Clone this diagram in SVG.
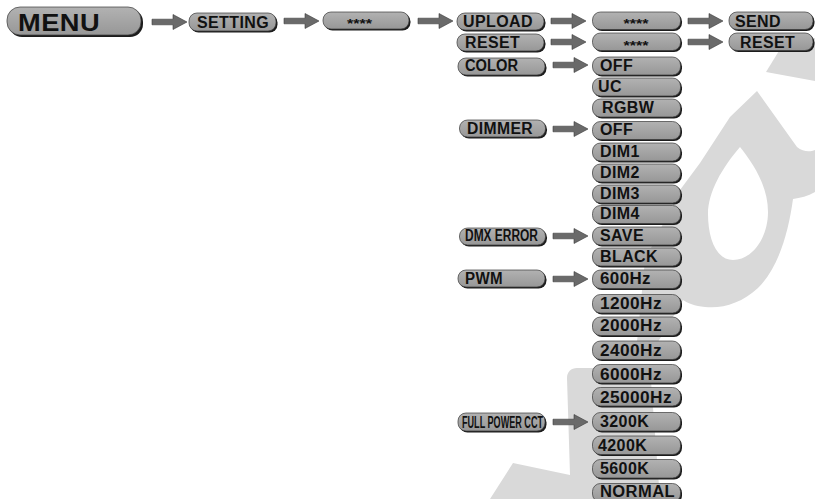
<svg xmlns="http://www.w3.org/2000/svg" xmlns:xlink="http://www.w3.org/1999/xlink" width="815" height="499" viewBox="0 0 815 499">
<defs>
<style>
.wm{fill:#d9d9d9}
.sh{fill:#1c1c1c}
.bt{fill:url(#gb);stroke:#3a3a3a;stroke-width:0.7}
.t{font-family:"Liberation Sans",Arial,sans-serif;font-weight:bold;font-size:16px;fill:#111;letter-spacing:0.4px}
.n{font-size:16px;letter-spacing:0}
.st{font-family:"Liberation Sans",Arial,sans-serif;font-weight:bold;font-size:13px;fill:#111}
.ar{fill:#6a6a6a;stroke:#3a3a3a;stroke-width:0.6}
</style>
<linearGradient id="gb" x1="0" y1="0" x2="0" y2="1">
<stop offset="0" stop-color="#b2b2b2"/>
<stop offset="1" stop-color="#979797"/>
</linearGradient>
<path id="arr" class="ar" d="M0,-2.8 H21 V-7.5 L35,0 L21,7.5 V2.8 H0 Z"/>
</defs>
<rect width="815" height="499" fill="#fff"/>
<g id="watermark">
<path class="wm" d="M766,72 L782,46 L815,38 L815,81 Z"/>
<path class="wm" fill-rule="evenodd" d="M757,91 L797,147 C803,152 810,152 815,150 L815,192 C808,196 800,198 793,199 C788,235 778,268 758,288 C742,303 722,309 705,307 C695,306 687,303 683,300 L652,352 L636,352 L645,260 L680,190 L700,163 L730,117 Z M740,147 C752,162 768,185 768,212 C768,238 752,260 733,260 C716,260 708,238 708,214 C708,192 722,168 740,147 Z"/>
<path class="wm" d="M490,499 L513,463 L570,475 L567,378 C567,372 571,368 577,368 L650,368 L660,499 Z"/>
</g>
<g id="connectors">
<use href="#arr" x="152" y="22"/>
<use href="#arr" x="284" y="21"/>
<use href="#arr" x="418" y="21"/>
<use href="#arr" x="551" y="21"/>
<use href="#arr" x="688" y="21"/>
<use href="#arr" x="551" y="42"/>
<use href="#arr" x="688" y="42"/>
<use href="#arr" x="553" y="65"/>
<use href="#arr" x="553" y="129"/>
<use href="#arr" x="553" y="236"/>
<use href="#arr" x="553" y="279"/>
<use href="#arr" x="553" y="422"/>
</g>
<g id="menu"><rect class="sh" x="9" y="9" width="134" height="28" rx="13"/><rect class="bt" x="7" y="7" width="134" height="28" rx="13"/><text class="t" x="18" y="31" style="font-size:24px" textLength="82" lengthAdjust="spacingAndGlyphs">MENU</text></g>
<g id="setting"><rect class="sh" x="190.5" y="14.5" width="87" height="18" rx="8"/><rect class="bt" x="189" y="13" width="87" height="18" rx="8"/><text class="t" x="197" y="27.5" textLength="72" lengthAdjust="spacingAndGlyphs">SETTING</text></g>
<g id="pwd"><rect class="sh" x="324.5" y="13.5" width="86" height="17" rx="8"/><rect class="bt" x="323" y="12" width="86" height="17" rx="8"/><text class="st" x="347" y="28" textLength="25" lengthAdjust="spacingAndGlyphs">****</text></g>
<g id="upload"><rect class="sh" x="458.5" y="14.5" width="87" height="17" rx="8"/><rect class="bt" x="457" y="13" width="87" height="17" rx="8"/><text class="t" x="463" y="27" textLength="70" lengthAdjust="spacingAndGlyphs">UPLOAD</text></g>
<g id="reset1"><rect class="sh" x="458.5" y="35.5" width="87" height="17" rx="8"/><rect class="bt" x="457" y="34" width="87" height="17" rx="8"/><text class="t" x="465" y="47.5" textLength="55" lengthAdjust="spacingAndGlyphs">RESET</text></g>
<g id="color"><rect class="sh" x="459.5" y="59.5" width="87" height="17" rx="8"/><rect class="bt" x="458" y="58" width="87" height="17" rx="8"/><text class="t n" x="465" y="71" textLength="53" lengthAdjust="spacingAndGlyphs">COLOR</text></g>
<g id="dimmer"><rect class="sh" x="461" y="121.5" width="86" height="17" rx="8"/><rect class="bt" x="459.5" y="120" width="86" height="17" rx="8"/><text class="t" x="467" y="133.5" textLength="66" lengthAdjust="spacingAndGlyphs">DIMMER</text></g>
<g id="dmxerror"><rect class="sh" x="461" y="229.5" width="86" height="17" rx="8"/><rect class="bt" x="459.5" y="228" width="86" height="17" rx="8"/><text class="t n" x="465" y="241" textLength="73" lengthAdjust="spacingAndGlyphs">DMX ERROR</text></g>
<g id="pwm"><rect class="sh" x="459.5" y="271.5" width="87" height="17" rx="8"/><rect class="bt" x="458" y="270" width="87" height="17" rx="8"/><text class="t" x="465" y="284" textLength="38" lengthAdjust="spacingAndGlyphs">PWM</text></g>
<g id="fullpower"><rect class="sh" x="459.5" y="414.5" width="87" height="18" rx="8"/><rect class="bt" x="458" y="413" width="87" height="18" rx="8"/><text class="t n" x="462" y="428" textLength="81" lengthAdjust="spacingAndGlyphs">FULL POWER CCT</text></g>
<g id="pwd2"><rect class="sh" x="594" y="13.5" width="88" height="17.5" rx="8"/><rect class="bt" x="592.5" y="12" width="88" height="17.5" rx="8"/><text class="st" x="623.5" y="28" textLength="25" lengthAdjust="spacingAndGlyphs">****</text></g>
<g id="pwd3"><rect class="sh" x="594" y="34.5" width="88" height="17.5" rx="8"/><rect class="bt" x="592.5" y="33" width="88" height="17.5" rx="8"/><text class="st" x="623.5" y="50" textLength="25" lengthAdjust="spacingAndGlyphs">****</text></g>
<g id="send"><rect class="sh" x="730.5" y="13.5" width="84" height="17.5" rx="8"/><rect class="bt" x="729" y="12" width="84" height="17.5" rx="8"/><text class="t" x="735" y="27" textLength="46" lengthAdjust="spacingAndGlyphs">SEND</text></g>
<g id="reset2"><rect class="sh" x="730.5" y="34.5" width="84" height="17.5" rx="8"/><rect class="bt" x="729" y="33" width="84" height="17.5" rx="8"/><text class="t" x="740" y="48" textLength="55" lengthAdjust="spacingAndGlyphs">RESET</text></g>
<g id="color-off"><rect class="sh" x="594" y="58.5" width="88" height="18" rx="8"/><rect class="bt" x="592.5" y="57" width="88" height="18" rx="8"/><text class="t" x="600" y="71">OFF</text></g>
<g id="color-uc"><rect class="sh" x="594" y="79.5" width="88" height="18" rx="8"/><rect class="bt" x="592.5" y="78" width="88" height="18" rx="8"/><text class="t" x="598" y="92">UC</text></g>
<g id="color-rgbw"><rect class="sh" x="594" y="100.5" width="88" height="18" rx="8"/><rect class="bt" x="592.5" y="99" width="88" height="18" rx="8"/><text class="t" x="602" y="113">RGBW</text></g>
<g id="dim-off"><rect class="sh" x="594" y="123" width="88" height="18" rx="8"/><rect class="bt" x="592.5" y="121.5" width="88" height="18" rx="8"/><text class="t" x="600" y="135">OFF</text></g>
<g id="dim1"><rect class="sh" x="594" y="144.5" width="88" height="18" rx="8"/><rect class="bt" x="592.5" y="143" width="88" height="18" rx="8"/><text class="t" x="600" y="157">DIM1</text></g>
<g id="dim2"><rect class="sh" x="594" y="165.5" width="88" height="18" rx="8"/><rect class="bt" x="592.5" y="164" width="88" height="18" rx="8"/><text class="t" x="600" y="178">DIM2</text></g>
<g id="dim3"><rect class="sh" x="594" y="186.5" width="88" height="18" rx="8"/><rect class="bt" x="592.5" y="185" width="88" height="18" rx="8"/><text class="t" x="600" y="199">DIM3</text></g>
<g id="dim4"><rect class="sh" x="594" y="207" width="88" height="18" rx="8"/><rect class="bt" x="592.5" y="205.5" width="88" height="18" rx="8"/><text class="t" x="600" y="219">DIM4</text></g>
<g id="save"><rect class="sh" x="594" y="228.5" width="88" height="18" rx="8"/><rect class="bt" x="592.5" y="227" width="88" height="18" rx="8"/><text class="t" x="600" y="241">SAVE</text></g>
<g id="black"><rect class="sh" x="594" y="249.5" width="88" height="18" rx="8"/><rect class="bt" x="592.5" y="248" width="88" height="18" rx="8"/><text class="t" x="600" y="262">BLACK</text></g>
<g id="hz600"><rect class="sh" x="594" y="271.5" width="88" height="18.5" rx="8"/><rect class="bt" x="592.5" y="270" width="88" height="18.5" rx="8"/><text class="t" x="600" y="284" textLength="51" lengthAdjust="spacingAndGlyphs">600Hz</text></g>
<g id="hz1200"><rect class="sh" x="594" y="296" width="88" height="18.5" rx="8"/><rect class="bt" x="592.5" y="294.5" width="88" height="18.5" rx="8"/><text class="t" x="600" y="309" textLength="62" lengthAdjust="spacingAndGlyphs">1200Hz</text></g>
<g id="hz2000"><rect class="sh" x="594" y="318.5" width="88" height="18.5" rx="8"/><rect class="bt" x="592.5" y="317" width="88" height="18.5" rx="8"/><text class="t" x="600" y="331" textLength="62" lengthAdjust="spacingAndGlyphs">2000Hz</text></g>
<g id="hz2400"><rect class="sh" x="594" y="342.5" width="88" height="18.5" rx="8"/><rect class="bt" x="592.5" y="341" width="88" height="18.5" rx="8"/><text class="t" x="600" y="355.5" textLength="62" lengthAdjust="spacingAndGlyphs">2400Hz</text></g>
<g id="hz6000"><rect class="sh" x="594" y="366" width="88" height="18.5" rx="8"/><rect class="bt" x="592.5" y="364.5" width="88" height="18.5" rx="8"/><text class="t" x="600" y="379.5" textLength="62" lengthAdjust="spacingAndGlyphs">6000Hz</text></g>
<g id="hz25000"><rect class="sh" x="594" y="389" width="88" height="18.5" rx="8"/><rect class="bt" x="592.5" y="387.5" width="88" height="18.5" rx="8"/><text class="t" x="600" y="402.5" textLength="72" lengthAdjust="spacingAndGlyphs">25000Hz</text></g>
<g id="k3200"><rect class="sh" x="594" y="414" width="88" height="18.5" rx="8"/><rect class="bt" x="592.5" y="412.5" width="88" height="18.5" rx="8"/><text class="t" x="600" y="427">3200K</text></g>
<g id="k4200"><rect class="sh" x="594" y="437.5" width="88" height="18.5" rx="8"/><rect class="bt" x="592.5" y="436" width="88" height="18.5" rx="8"/><text class="t" x="598" y="450.5">4200K</text></g>
<g id="k5600"><rect class="sh" x="594" y="461" width="88" height="18.5" rx="8"/><rect class="bt" x="592.5" y="459.5" width="88" height="18.5" rx="8"/><text class="t" x="600" y="474">5600K</text></g>
<g id="normal"><rect class="sh" x="594" y="485" width="88" height="18.5" rx="8"/><rect class="bt" x="592.5" y="483.5" width="88" height="18.5" rx="8"/><text class="t" x="600" y="497" textLength="75" lengthAdjust="spacingAndGlyphs">NORMAL</text></g>
</svg>
